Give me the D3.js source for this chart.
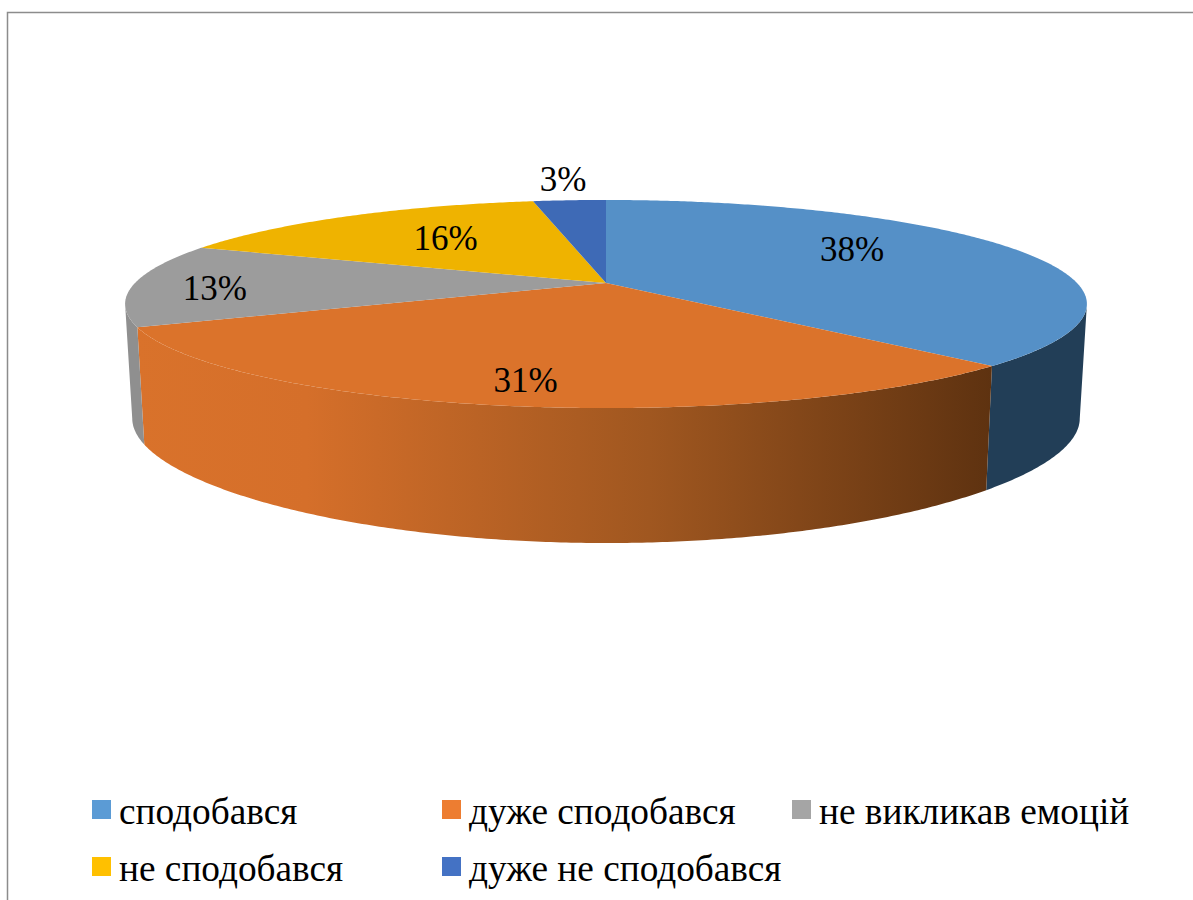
<!DOCTYPE html>
<html><head><meta charset="utf-8">
<script src="https://cdn.jsdelivr.net/npm/d3@7/dist/d3.min.js"></script>
<style>html,body{margin:0;padding:0;background:#fff;overflow:hidden}svg{display:block}</style>
</head><body><svg id="c" width="1193" height="900"></svg>
<script>
const categories = ["сподобався","дуже сподобався","не викликав емоцій","не сподобався","дуже не сподобався"];
const percents = [38,31,13,16,3];
const legendColors = ["#5B9BD5","#ED7D31","#A5A5A5","#FFC000","#4472C4"];
const topColors = ["#5590C7","#DB732B","#9C9C9C","#EFB300","#3E6AB6"];
const wallColors = ["#223E57","url(#orangeWall)","#8F8F8F","#B08600","#2C4A80"];
const labelOffsets = [[-4,-13],[-21,30],[-108,4],[3,-3],[-19.5,-51]];
const legendCols = [92,442,792];
const legendRows = [800,857];

const W=1193,H=900,deg=Math.PI/180;
const svg=d3.select("#c");
const topDisk={cx:606,a:283,b:99.8,R:471,kx:0.2019,ky:0.2019};
const botDisk={cx:606,a:395.8,b:106,R:464,kx:0.2019,ky:0.28};
function project(d,theta,f=1){
  const x=f*Math.sin(theta),y=-f*Math.cos(theta);
  return [d.cx+d.R*x/(1-d.kx*y),d.a+d.b*y/(1-d.ky*y)];
}
const arcs=d3.pie().sort(null).value(v=>v)(percents);
const line=d3.line();
const visL=Math.acos(-topDisk.kx),visR=2*Math.PI-visL;
const samples=(a,b)=>{const n=Math.max(2,Math.ceil((b-a)/(0.5*deg)));return d3.range(n+1).map(i=>a+(b-a)*i/n);};

const defs=svg.append("defs");
const g=defs.append("linearGradient").attr("id","orangeWall").attr("gradientUnits","userSpaceOnUse")
  .attr("x1",135).attr("x2",992).attr("y1",0).attr("y2",0);
[[0,"#D9722B"],[0.2,"#D56F2A"],[0.6,"#A05720"],[1,"#5E3210"]].forEach(s=>g.append("stop").attr("offset",s[0]).attr("stop-color",s[1]));

// frame
svg.append("path").attr("d",line([[7.5,H],[7.5,12.5],[W,12.5]])).attr("fill","none").attr("stroke","#8C8C8C").attr("stroke-width",1.5);

// walls
svg.append("g").selectAll("path").data(arcs).join("path")
 .attr("d",d=>{
   const a=Math.max(d.startAngle,visL),b=Math.min(d.endAngle,visR);
   if(b<=a) return null;
   const s=samples(a,b);
   return line(s.map(t=>project(topDisk,t)).concat(s.slice().reverse().map(t=>project(botDisk,t))))+"Z";
 })
 .attr("fill",(d,i)=>wallColors[i]);

// top
svg.append("g").selectAll("path").data(arcs).join("path")
 .attr("d",d=>line([[topDisk.cx,topDisk.a]].concat(samples(d.startAngle,d.endAngle).map(t=>project(topDisk,t))))+"Z")
 .attr("fill",(d,i)=>topColors[i]);

// labels
svg.append("g").selectAll("text").data(arcs).join("text")
 .attr("x",(d,i)=>project(topDisk,(d.startAngle+d.endAngle)/2,0.6)[0]+labelOffsets[i][0])
 .attr("y",(d,i)=>project(topDisk,(d.startAngle+d.endAngle)/2,0.6)[1]+labelOffsets[i][1])
 .attr("dy","0.35em").attr("text-anchor","middle")
 .attr("font-family","'Liberation Serif',serif").attr("font-size",35).attr("fill","#000")
 .text(d=>d.data+"%");

// legend
const leg=svg.append("g").selectAll("g").data(categories).join("g")
 .attr("transform",(d,i)=>`translate(${legendCols[i%3]},${legendRows[Math.floor(i/3)]})`);
leg.append("rect").attr("width",19).attr("height",19).attr("fill",(d,i)=>legendColors[i]);
leg.append("text").attr("x",27).attr("y",24).attr("font-family","'Liberation Serif',serif").attr("font-size",37.3).attr("fill","#000").text(d=>d);
</script></body></html>
